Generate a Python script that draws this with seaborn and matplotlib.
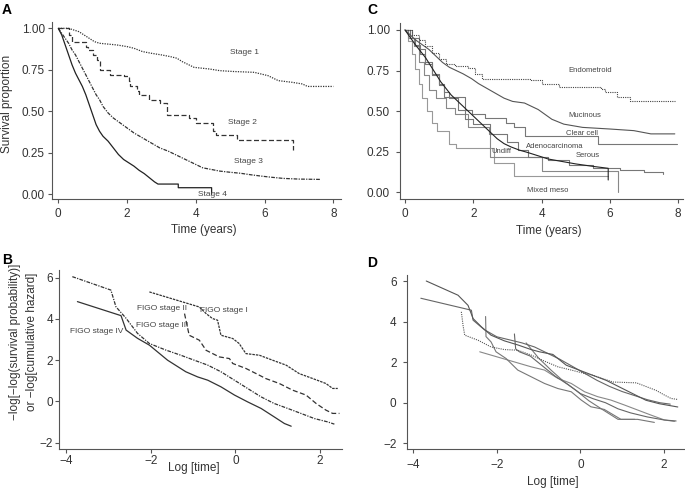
import seaborn as sns
import matplotlib.pyplot as plt

# ---------------- Panel A: survival by stage ----------------
stage1_t = [0, 0.3, 0.45, 0.6, 0.75, 0.9, 1.05, 1.2, 1.7, 2.0, 2.2, 2.45, 2.7, 3.0, 3.25, 3.45,
            3.6, 3.8, 3.95, 4.4, 4.7, 5.1, 5.7, 5.9, 6.1, 6.25, 6.4, 6.8, 7.1, 7.25, 8.0]
stage1_s = [1, 1.0, 0.99, 0.98, 0.96, 0.94, 0.92, 0.91, 0.90, 0.89, 0.88, 0.86, 0.85, 0.84, 0.83, 0.82,
            0.80, 0.78, 0.765, 0.755, 0.745, 0.74, 0.735, 0.725, 0.715, 0.70, 0.685, 0.675, 0.665, 0.65, 0.65]
stage2_t = [0, 0.3, 0.4, 0.8, 0.85, 1.0, 1.12, 1.2, 1.5, 1.9, 2.05, 2.1, 2.3, 2.35, 2.65, 2.95,
            3.15, 3.8, 4.0, 4.5, 4.6, 5.2, 6.84, 6.84]
stage2_s = [1, 0.96, 0.92, 0.89, 0.87, 0.84, 0.81, 0.75, 0.72, 0.71, 0.68, 0.65, 0.62, 0.60, 0.57, 0.55,
            0.48, 0.46, 0.43, 0.38, 0.36, 0.33, 0.33, 0.27]
stage3_t = [0, 0.1, 0.2, 0.3, 0.4, 0.5, 0.6, 0.7, 0.8, 0.9, 1.0, 1.1, 1.2, 1.3, 1.45, 1.6, 1.8, 2.0,
            2.2, 2.45, 2.7, 2.95, 3.2, 3.45, 3.7, 3.95, 4.2, 4.45, 4.7, 5.0, 5.3, 5.6, 5.9, 6.2, 6.55,
            7.0, 7.61]
stage3_s = [1, 0.97, 0.94, 0.91, 0.87, 0.84, 0.80, 0.76, 0.72, 0.68, 0.64, 0.60, 0.57, 0.53, 0.49,
            0.46, 0.43, 0.40, 0.37, 0.34, 0.31, 0.28, 0.26, 0.235, 0.21, 0.185, 0.16, 0.15, 0.14,
            0.133, 0.127, 0.118, 0.11, 0.103, 0.096, 0.092, 0.09]
stage4_t = [0, 0.1, 0.2, 0.3, 0.4, 0.5, 0.6, 0.7, 0.8, 0.9, 1.0, 1.1, 1.2, 1.3, 1.45, 1.6, 1.75,
            1.9, 2.05, 2.2, 2.35, 2.5, 2.65, 2.8, 2.9, 3.49, 3.49, 4.46, 4.46]
stage4_s = [1, 0.96, 0.90, 0.84, 0.78, 0.73, 0.69, 0.65, 0.60, 0.54, 0.48, 0.42, 0.38, 0.35, 0.32,
            0.28, 0.24, 0.21, 0.19, 0.17, 0.145, 0.125, 0.10, 0.075, 0.062, 0.062, 0.04, 0.04, 0.0]

# ---------------- Panel C: survival by histology ----------------
endo_t = [0, 0.2, 0.4, 0.6, 0.8, 1.0, 1.2, 1.45, 1.85, 2.05, 2.25, 3.7, 4.0, 4.5, 5.75, 5.85, 6.2, 6.6, 7.9]
endo_s = [1, 0.97, 0.94, 0.90, 0.86, 0.82, 0.79, 0.775, 0.765, 0.73, 0.70, 0.69, 0.665, 0.65, 0.635,
          0.615, 0.59, 0.565, 0.565]
muc_t = [0, 0.15, 0.3, 0.5, 0.7, 0.9, 1.1, 1.3, 1.5, 1.7, 1.95, 2.15, 2.4, 2.65, 2.9, 3.15, 3.5, 3.7,
         3.9, 4.1, 4.3, 4.65, 5.2, 6.0, 6.7, 7.2, 7.9]
muc_s = [1, 0.97, 0.94, 0.91, 0.88, 0.84, 0.80, 0.77, 0.75, 0.73, 0.70, 0.67, 0.64, 0.61, 0.58, 0.56,
         0.55, 0.53, 0.51, 0.48, 0.45, 0.42, 0.40, 0.39, 0.38, 0.36, 0.36]
clear_t = [0, 0.15, 0.3, 0.45, 0.6, 0.8, 1.0, 1.15, 1.3, 1.55, 1.95, 2.35, 2.95, 3.2, 3.5, 4.7, 5.65, 7.95]
clear_s = [1, 0.95, 0.91, 0.85, 0.79, 0.73, 0.67, 0.62, 0.58, 0.51, 0.48, 0.46, 0.43, 0.40, 0.35, 0.35,
           0.30, 0.30]
adeno_t = [0, 0.1, 0.2, 0.3, 0.45, 0.6, 0.75, 0.9, 1.05, 1.2, 1.35, 1.5, 1.7, 1.9, 2.1, 2.3, 2.5, 2.7,
           2.9, 3.1, 3.35, 3.6, 3.9, 4.2, 4.6, 5.0, 5.5, 5.95, 5.95]
adeno_s = [1, 0.97, 0.94, 0.91, 0.87, 0.83, 0.78, 0.73, 0.68, 0.64, 0.60, 0.57, 0.53, 0.49, 0.45, 0.41,
           0.37, 0.33, 0.30, 0.28, 0.26, 0.245, 0.225, 0.205, 0.19, 0.175, 0.16, 0.148, 0.076]
serous_t = [0, 0.2, 0.4, 0.6, 0.8, 1.0, 1.15, 1.7, 1.75, 2.0, 2.5, 3.0, 3.3, 3.6, 4.2, 4.8, 5.5, 6.3, 7.0, 7.55]
serous_s = [1, 0.95, 0.88, 0.80, 0.72, 0.66, 0.59, 0.59, 0.45, 0.42, 0.36, 0.31, 0.26, 0.22, 0.20, 0.17,
            0.15, 0.135, 0.125, 0.115]
undiff_t = [0, 0.1, 0.25, 0.4, 0.55, 0.7, 0.9, 1.2, 1.45, 1.85, 2.45, 2.5, 4.0, 6.24, 6.24]
undiff_s = [1, 0.95, 0.90, 0.80, 0.72, 0.63, 0.58, 0.52, 0.48, 0.40, 0.36, 0.22, 0.13, 0.13, 0.0]
meso_t = [0, 0.1, 0.2, 0.3, 0.4, 0.5, 0.65, 0.8, 0.95, 1.3, 1.5, 2.6, 3.2, 5.95]
meso_s = [1, 0.93, 0.85, 0.76, 0.67, 0.58, 0.50, 0.43, 0.38, 0.30, 0.27, 0.18, 0.10, 0.10]

# ---------------- Panel B: log-log by FIGO stage ----------------
figo1_x = [-2.03, -0.85, -0.69, -0.54, -0.42, -0.34, -0.06, 0.09, 0.25, 0.57, 0.88, 1.2, 1.51, 1.83,
           2.14, 2.3, 2.42]
figo1_y = [5.31, 4.58, 4.26, 4.02, 3.94, 3.21, 3.05, 2.81, 2.32, 2.24, 2.0, 1.76, 1.35, 1.11, 0.87, 0.63, 0.63]
figo2_x = [-1.2, -1.09, -0.85, -0.69, -0.38, -0.14, -0.06, 0.25, 0.57, 0.72, 1.04, 1.35, 1.67, 1.91,
           2.14, 2.3, 2.46]
figo2_y = [4.26, 3.21, 2.97, 2.48, 2.16, 2.08, 1.84, 1.6, 1.27, 1.11, 0.87, 0.55, 0.31, -0.1, -0.42,
           -0.58, -0.58]
figo3_x = [-3.85, -2.94, -2.82, -2.58, -2.31, -2.03, -1.64, -1.3, -0.97, -0.65, -0.34, -0.02, 0.29,
           0.61, 0.92, 1.24, 1.55, 1.87, 2.18, 2.34]
figo3_y = [6.05, 5.40, 4.59, 4.03, 3.30, 2.81, 2.49, 2.25, 2.0, 1.76, 1.44, 1.03, 0.63, 0.22, -0.1,
           -0.34, -0.58, -0.83, -0.99, -1.1]
figo4_x = [-3.73, -2.70, -2.58, -2.31, -2.03, -1.6, -1.17, -0.89, -0.65, -0.34, -0.02, 0.29, 0.61,
           0.92, 1.16, 1.32]
figo4_y = [4.84, 4.16, 3.46, 3.06, 2.73, 2.0, 1.44, 1.19, 1.03, 0.71, 0.31, -0.02, -0.34, -0.75, -1.07, -1.2]

# ---------------- Panel D: log-log by histology ----------------
d1_x = [-3.69, -2.93, -2.69, -2.57, -2.37, -2.14, -1.82, -1.50, -1.18, -0.98, -0.66, -0.34, -0.02,
        0.30, 0.62, 0.93, 1.25, 1.57, 1.89, 2.33]
d1_y = [6.00, 5.30, 4.80, 4.15, 3.74, 3.33, 3.05, 2.85, 2.62, 2.51, 2.38, 1.85, 1.60, 1.35, 1.10,
        0.78, 0.45, 0.12, -0.05, -0.21]
d2_x = [-3.82, -2.61, -2.57, -2.3, -2.0, -1.7, -1.4, -1.1, -0.8, -0.5, -0.2, 0.1, 0.4, 0.7, 1.0, 1.3,
        1.6, 1.9, 2.15]
d2_y = [5.15, 4.56, 4.07, 3.6, 3.25, 3.1, 2.95, 2.75, 2.45, 2.15, 1.8, 1.45, 1.1, 0.8, 0.55, 0.35,
        0.15, 0.0, -0.07]
d3_x = [-2.85, -2.81, -2.77, -2.45, -2.14, -1.82, -1.50, -1.18, -0.86, -0.54, -0.22, 0.10, 0.30,
        0.78, 1.34, 1.81, 2.01, 2.17, 2.33]
d3_y = [4.48, 3.82, 3.33, 3.08, 2.75, 2.62, 2.59, 2.35, 2.05, 1.77, 1.61, 1.44, 1.35, 1.02, 0.98,
        0.61, 0.38, 0.21, 0.16]
d4_x = [-2.27, -2.26, -2.14, -2.02, -1.78, -1.50, -1.18, -0.86, -0.54, -0.22, 0.02, 0.25, 0.57,
        0.97, 1.37, 1.77]
d4_y = [4.25, 3.26, 3.0, 2.51, 2.18, 1.61, 1.28, 0.95, 0.70, 0.54, 0.13, -0.20, -0.33, -0.82, -0.82, -0.97]
d5_x = [-1.58, -1.55, -1.46, -1.2, -0.9, -0.6, -0.3, 0.0, 0.3, 0.6, 0.9, 1.2, 1.6, 2.0, 2.29]
d5_y = [3.39, 2.65, 2.51, 2.3, 1.8, 1.3, 0.9, 0.45, 0.2, 0.0, -0.3, -0.5, -0.7, -0.85, -0.9]
d6_x = [-2.41, -1.18, -0.86, -0.54, -0.22, 0.10, 0.41, 0.73, 1.05, 1.37, 1.69, 2.01, 2.25]
d6_y = [2.51, 1.77, 1.61, 1.20, 0.95, 0.54, 0.30, 0.13, -0.11, -0.36, -0.61, -0.85, -0.92]
d7_x = [-1.30, -1.0, -0.7, -0.4, -0.1, 0.2, 0.5, 0.9, 1.3]
d7_y = [2.95, 2.2, 1.6, 1.05, 0.6, 0.1, -0.3, -0.82, -0.82]

W, H = 685, 488

sns.set_theme(style="ticks")
plt.rcParams['font.family'] = ['Liberation Sans', 'DejaVu Sans']
plt.rcParams['axes.linewidth'] = 0.8

fig = plt.figure(figsize=(W / 100, H / 100), dpi=100)


def add_panel(x0, y0, x1, y1, xpad, ypad):
    # axes placed in pixel coords of the original figure
    ax = fig.add_axes([x0 / W, 1 - y1 / H, (x1 - x0) / W, (y1 - y0) / H])
    sns.despine(ax=ax)
    for side in ['left', 'bottom']:
        ax.spines[side].set_color('#555555')
    ax.tick_params(length=3, width=0.8, color='#555555', labelsize=8.5, labelcolor='#333333')
    ax.tick_params(axis='x', pad=xpad)
    ax.tick_params(axis='y', pad=ypad)
    ax.set_facecolor('white')
    return ax


def km(ax, t, s, color, ls='-', lw=0.9, steps=True):
    # small groups: step curve; big groups: the steps are too fine to see
    extra = dict(drawstyle='steps-post') if steps else {}
    sns.lineplot(x=t, y=s, ax=ax, color=color, linestyle=ls, linewidth=lw,
                 estimator=None, sort=False, **extra)


def loglog(ax, x, y, color, ls='-', lw=0.9):
    sns.lineplot(x=x, y=y, ax=ax, color=color, linestyle=ls, linewidth=lw,
                 estimator=None, sort=False)


DOT = (0, (1, 1))
DASH = (0, (4, 2))
DASHDOT = (0, (3, 1, 1, 1))
lab = dict(fontsize=6, color='#444444')

# ---- A ----
axA = add_panel(51.7, 21.7, 341, 199, 3.5, 2)
km(axA, stage1_t, stage1_s, '#333333', DOT, steps=False)
km(axA, stage2_t, stage2_s, '#333333', DASH)
km(axA, stage3_t, stage3_s, '#333333', DASHDOT, steps=False)
km(axA, stage4_t, stage4_s, '#222222', '-', steps=False)
axA.set_xlim(-0.192, 8.224)
axA.set_ylim(-0.028, 1.040)
axA.set_xticks([0, 2, 4, 6, 8])
axA.set_yticks([0, 0.25, 0.5, 0.75, 1.0])
axA.set_yticklabels(['0.00', '0.25', '0.50', '0.75', '1.00'])
axA.text(5.43, 0.857, 'Stage 1', ha='center', va='center', **lab)
axA.text(5.37, 0.43, 'Stage 2', ha='center', va='center', **lab)
axA.text(5.52, 0.195, 'Stage 3', ha='center', va='center', **lab)
axA.text(4.47, 0.0, 'Stage 4', ha='center', va='center', **lab)

# ---- C ----
axC = add_panel(400, 23.3, 683, 199, 3.5, 4.3)
km(axC, meso_t, meso_s, '#999999', '-', 0.8)
km(axC, undiff_t, undiff_s, '#888888', '-', 0.8)
km(axC, serous_t, serous_s, '#777777', '-', 0.8)
km(axC, clear_t, clear_s, '#777777', '-', 0.8)
km(axC, muc_t, muc_s, '#555555', '-', 0.8, steps=False)
km(axC, endo_t, endo_s, '#444444', DOT, 0.8)
km(axC, adeno_t, adeno_s, '#222222', '-', 0.8, steps=False)
axC.set_xlim(-0.146, 8.14)
axC.set_ylim(-0.041, 1.041)
axC.set_xticks([0, 2, 4, 6, 8])
axC.set_yticks([0, 0.25, 0.5, 0.75, 1.0])
axC.set_yticklabels(['0.00', '0.25', '0.50', '0.75', '1.00'])
labc = dict(fontsize=5.5, color='#444444', ha='center', va='center')
axC.text(5.41, 0.75, 'Endometroid', **labc)
axC.text(5.26, 0.475, 'Mucinous', **labc)
axC.text(5.17, 0.363, 'Clear cell', **labc)
axC.text(4.39, 0.285, 'Adenocarcinoma', **labc)
axC.text(5.36, 0.225, 'Serous', **labc)
axC.text(2.83, 0.25, 'Undiff', **labc)
axC.text(4.19, 0.01, 'Mixed meso', **labc)

# ---- B ----
axB = add_panel(59.3, 270, 341.7, 449, 1.5, 1.5)
loglog(axB, figo1_x, figo1_y, '#333333', (0, (2, 0.8)))
loglog(axB, figo2_x, figo2_y, '#333333', DASH)
loglog(axB, figo3_x, figo3_y, '#333333', DASHDOT)
loglog(axB, figo4_x, figo4_y, '#333333', '-')
axB.set_xlim(-4.158, 2.513)
axB.set_ylim(-2.305, 6.373)
axB.set_xticks([-4, -2, 0, 2])
axB.set_yticks([-2, 0, 2, 4, 6])
labb = dict(fontsize=6, color='#444444', ha='center', va='center')
axB.text(-1.74, 4.51, 'FIGO stage II', **labb)
axB.text(-0.28, 4.40, 'FIGO stage I', **labb)
axB.text(-1.74, 3.66, 'FIGO stage III', **labb)
axB.text(-3.28, 3.38, 'FIGO stage IV', **labb)

# ---- D ----
axD = add_panel(407, 275, 684, 449, 4, 4.5)
loglog(axD, d6_x, d6_y, '#888888', '-', 0.8)
loglog(axD, d7_x, d7_y, '#777777', '-', 0.8)
loglog(axD, d4_x, d4_y, '#777777', '-', 0.8)
loglog(axD, d5_x, d5_y, '#666666', '-', 0.8)
loglog(axD, d2_x, d2_y, '#666666', '-', 0.8)
loglog(axD, d1_x, d1_y, '#555555', '-', 0.8)
loglog(axD, d3_x, d3_y, '#555555', DOT, 0.8)
axD.set_xlim(-4.151, 2.479)
axD.set_ylim(-2.281, 6.296)
axD.set_xticks([-4, -2, 0, 2])
axD.set_yticks([-2, 0, 2, 4, 6])

# ---- labels ----
ft = dict(fontsize=8.5, color='#333333', ha='center', va='center')
fig.text(7.5 / W, 1 - 104 / H, 'Survival proportion', rotation=90, **ft)
fig.text(203.5 / W, 1 - 230 / H, 'Time (years)', **ft)
fig.text(549 / W, 1 - 230.7 / H, 'Time (years)', **ft)
fig.text(23.5 / W, 1 - 342 / H, '\u2212log[\u2212log(survival probability)]\nor \u2212log[cumulative hazard]',
         rotation=90, linespacing=1.45, **ft)
fig.text(194 / W, 1 - 468 / H, 'Log [time]', **ft)
fig.text(553 / W, 1 - 481.7 / H, 'Log [time]', **ft)

pl = dict(fontsize=10, fontweight='bold', color='black', ha='left', va='center')
fig.text(2 / W, 1 - 10 / H, 'A', **pl)
fig.text(367 / W, 1 - 10 / H, 'C', **pl)
fig.text(2 / W, 1 - 260 / H, 'B', **pl)
fig.text(367 / W, 1 - 263 / H, 'D', **pl)

fig.savefig('out.png', dpi=100, facecolor='white')
